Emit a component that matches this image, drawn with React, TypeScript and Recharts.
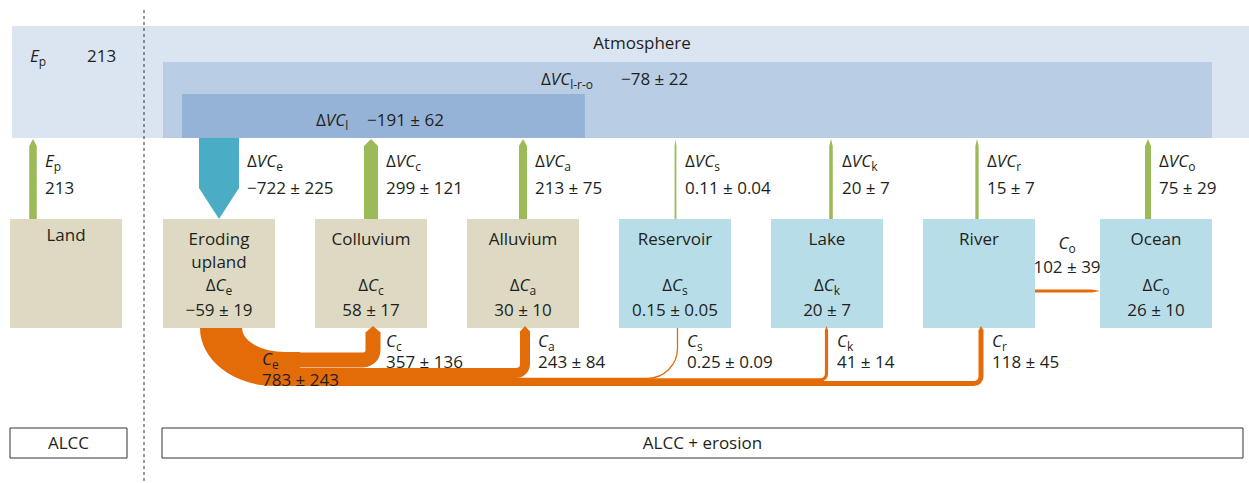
import { ComposedChart, ReferenceArea, ReferenceDot, ReferenceLine, XAxis, YAxis } from 'recharts';

const WIDTH = 1249;
const HEIGHT = 483;

// Carbon pools along the land–ocean continuum
const poolNames = ['Land', 'Eroding\nupland', 'Colluvium', 'Alluvium', 'Reservoir', 'Lake', 'River', 'Ocean'];
const poolSubs = ['', 'e', 'c', 'a', 's', 'k', 'r', 'o'];
const poolKinds = ['soil', 'soil', 'soil', 'soil', 'water', 'water', 'water', 'water'];
const storageMean = [null, -59, 58, 30, 0.15, 20, null, 26];
const storageErr = [null, 19, 17, 10, 0.05, 7, null, 10];

// Vertical exchange between each pool and the atmosphere (first entry is E_p on land)
const verticalMean = [213, -722, 299, 213, 0.11, 20, 15, 75];
const verticalErr = [null, 225, 121, 75, 0.04, 7, 7, 29];

// Lateral transfers carried by erosion and water
const lateralSubs = ['e', 'c', 'a', 's', 'k', 'r', 'o'];
const lateralMean = [783, 357, 243, 0.25, 41, 118, 102];
const lateralErr = [243, 136, 84, 0.09, 14, 45, 39];

// Net atmospheric balances
const atmosphereSubs = ['l-r-o', 'l'];
const atmosphereMean = [-78, -191];
const atmosphereErr = [22, 62];

const scenarioLabels = ['ALCC', 'ALCC + erosion'];

// ---- layout ----
const BOX_LEFT = [10, 163, 315, 467, 619, 771, 923, 1100];
const BOX_W = 112;
const BOX_TOP = 219;
const BOX_BOTTOM = 328;
const ATM_BOTTOM = 138;
const V_ARROW_X = [33, 219, 371, 523, 675.5, 831, 977, 1148];
const V_ARROW_W = [7.5, 40, 14, 8, 1.8, 3.5, 3.3, 6];
const V_LABEL_X = [45, 247, 386, 535, 685, 842, 987, 1159];
const FLOW_START = 285;
const FLOW_X = [0, 373, 525, 677.5, 826.5, 981];
const FLOW_Y = [0, 360, 373, 378.3, 379.8, 383.5];
const FLOW_W = [0, 15, 10, 1.3, 3.2, 5];
const FLOW_R = [0, 10, 9, 30, 6, 7];
const FLOW_HEAD = [0, 6, 5, 0, 4, 4];
const FLOW_LABEL_X = [262, 386, 538, 687, 837, 992, 1067];

const C = {
  atmosphere: '#dbe5f1',
  lro: '#b9cde5',
  l: '#95b3d7',
  soil: '#ddd9c3',
  water: '#b7dde8',
  uptake: '#9bbb59',
  release: '#4bacc6',
  lateral: '#e36c09',
  text: '#231f20',
};
const FONT = "'Open Sans', sans-serif";

type Rect = { x: number; y: number; width: number; height: number };
type Part = { t: string; i?: boolean; sub?: boolean };
type TextSpec = { x: number; y: number; anchor?: 'start' | 'middle'; parts: Part[] };

const fmt = (v: number) => (v < 0 ? `\u2212${Math.abs(v)}` : `${v}`);
const pm = (m: number, e: number | null) => (e == null ? fmt(m) : `${fmt(m)} \u00b1 ${fmt(e)}`);
const plain = (t: string): Part[] => [{ t }];
const dVC = (s: string): Part[] => [{ t: '\u0394' }, { t: 'VC', i: true }, { t: s, sub: true }];
const dC = (s: string): Part[] => [{ t: '\u0394' }, { t: 'C', i: true }, { t: s, sub: true }];
const cSym = (s: string): Part[] => [{ t: 'C', i: true }, { t: s, sub: true }];
const eSym: Part[] = [{ t: 'E', i: true }, { t: 'p', sub: true }];

function arrowShape(dir: 'up' | 'down' | 'right', head: number, fill: string) {
  return (p: Rect) => {
    const { x, y, width: w, height: h } = p;
    let pts: number[][];
    if (dir === 'up') pts = [[x, y + h], [x, y + head], [x + w / 2, y], [x + w, y + head], [x + w, y + h]];
    else if (dir === 'down') pts = [[x, y], [x + w, y], [x + w, y + h - head], [x + w / 2, y + h], [x, y + h - head]];
    else pts = [[x, y], [x + w - head, y], [x + w, y + h / 2], [x + w - head, y + h], [x, y + h]];
    return <polygon points={pts.map((q) => q.join(',')).join(' ')} fill={fill} />;
  };
}

// horizontal run along the bottom of the rect, rounded corner, then up to the top edge
function elbowShape(w: number, r: number, head: number, color: string) {
  return (p: Rect) => {
    const xv = p.x + p.width - w / 2;
    const cy = p.y + p.height - w / 2;
    const top = p.y;
    const d = `M${p.x},${cy} H${xv - r} A${r},${r} 0 0 0 ${xv},${cy - r} V${top + head}`;
    return (
      <g>
        <path d={d} fill="none" stroke={color} strokeWidth={w} />
        {head > 0 && <polygon points={`${xv - w / 2},${top + head + 0.5} ${xv},${top} ${xv + w / 2},${top + head + 0.5}`} fill={color} />}
      </g>
    );
  };
}

// the wide band leaving the eroding upland and bending into the trunk
function bendShape(color: string) {
  return (p: Rect) => {
    const { x, y, width: w, height: h } = p;
    const d = `M${x},${y} L${x + 42},${y} A43,24 0 0 0 ${x + 85},${y + 24} L${x + w},${y + 24} L${x + w},${y + h} L${x + 75},${y + h} A75,${h} 0 0 1 ${x},${y} Z`;
    return <path d={d} fill={color} />;
  };
}

function TextMark({ cx, cy, spec }: { cx: number; cy: number; spec: TextSpec }) {
  let shifted = false;
  return (
    <text x={cx} y={cy} textAnchor={spec.anchor ?? 'start'} fontFamily={FONT} fontSize={17} fill={C.text}>
      {spec.parts.map((p, i) => {
        const dy = p.sub ? (shifted ? 0 : 4) : shifted ? -4 : 0;
        shifted = !!p.sub;
        return (
          <tspan key={i} dy={dy || undefined} fontSize={p.sub ? 12 : undefined} fontStyle={p.i ? 'italic' : undefined}>
            {p.t}
          </tspan>
        );
      })}
    </text>
  );
}

const texts: TextSpec[] = [];
texts.push({ x: 642, y: 49, anchor: 'middle', parts: plain('Atmosphere') });
texts.push({ x: 30, y: 62, parts: eSym });
texts.push({ x: 87, y: 62, parts: plain(fmt(verticalMean[0])) });
texts.push({ x: 541, y: 85, parts: dVC(atmosphereSubs[0]) });
texts.push({ x: 621, y: 85, parts: plain(pm(atmosphereMean[0], atmosphereErr[0])) });
texts.push({ x: 316, y: 126, parts: dVC(atmosphereSubs[1]) });
texts.push({ x: 367, y: 126, parts: plain(pm(atmosphereMean[1], atmosphereErr[1])) });

verticalMean.forEach((m, i) => {
  texts.push({ x: V_LABEL_X[i], y: 167, parts: i === 0 ? eSym : dVC(poolSubs[i]) });
  texts.push({ x: V_LABEL_X[i], y: 194, parts: plain(pm(m, verticalErr[i])) });
});

poolNames.forEach((name, i) => {
  const cx = BOX_LEFT[i] + BOX_W / 2;
  name.split('\n').forEach((line, j) => {
    texts.push({ x: cx, y: (i === 0 ? 241 : 245) + j * 23, anchor: 'middle', parts: plain(line) });
  });
  const m = storageMean[i];
  if (m != null) {
    texts.push({ x: cx, y: 291, anchor: 'middle', parts: dC(poolSubs[i]) });
    texts.push({ x: cx, y: 316, anchor: 'middle', parts: plain(pm(m, storageErr[i])) });
  }
});

lateralMean.forEach((m, i) => {
  const toOcean = i === lateralMean.length - 1;
  const y0 = i === 0 ? 365 : toOcean ? 249 : 347;
  const anchor = toOcean ? 'middle' : 'start';
  texts.push({ x: FLOW_LABEL_X[i], y: y0, anchor, parts: cSym(lateralSubs[i]) });
  texts.push({ x: FLOW_LABEL_X[i], y: y0 + (toOcean ? 24 : 21), anchor, parts: plain(pm(m, lateralErr[i])) });
});

texts.push({ x: 68.5, y: 449, anchor: 'middle', parts: plain(scenarioLabels[0]) });
texts.push({ x: 702.5, y: 449, anchor: 'middle', parts: plain(scenarioLabels[1]) });

export default function App() {
  return (
    <div style={{ position: 'absolute', left: 0, top: 0, width: WIDTH, height: HEIGHT, background: '#fff' }}>
      <ComposedChart width={WIDTH} height={HEIGHT} data={[]} margin={{ top: 0, right: 0, bottom: 0, left: 0 }}>
        <XAxis type="number" dataKey="x" domain={[0, WIDTH]} allowDataOverflow hide />
        <YAxis type="number" domain={[0, HEIGHT]} allowDataOverflow reversed hide />

        {/* atmosphere and its nested balances */}
        <ReferenceArea x1={12} x2={WIDTH} y1={26} y2={ATM_BOTTOM} fill={C.atmosphere} fillOpacity={1} ifOverflow="visible" />
        <ReferenceArea x1={163} x2={1212} y1={62} y2={ATM_BOTTOM} fill={C.lro} fillOpacity={1} ifOverflow="visible" />
        <ReferenceArea x1={182} x2={585} y1={94} y2={ATM_BOTTOM} fill={C.l} fillOpacity={1} ifOverflow="visible" />

        {/* pools */}
        {BOX_LEFT.map((x, i) => (
          <ReferenceArea
            key={`box-${i}`}
            x1={x}
            x2={x + BOX_W}
            y1={BOX_TOP}
            y2={BOX_BOTTOM}
            fill={poolKinds[i] === 'soil' ? C.soil : C.water}
            fillOpacity={1}
            ifOverflow="visible"
          />
        ))}

        {/* vertical exchange arrows */}
        {verticalMean.map((m, i) => {
          const w = V_ARROW_W[i];
          const up = m >= 0;
          return (
            <ReferenceArea
              key={`v-${i}`}
              x1={V_ARROW_X[i] - w / 2}
              x2={V_ARROW_X[i] + w / 2}
              y1={up ? ATM_BOTTOM + 1 : ATM_BOTTOM}
              y2={BOX_TOP}
              ifOverflow="visible"
              shape={arrowShape(up ? 'up' : 'down', up ? 7 : 31, up ? C.uptake : C.release)}
            />
          );
        })}

        {/* lateral transfers */}
        <ReferenceArea x1={200} x2={300} y1={BOX_BOTTOM} y2={386} ifOverflow="visible" shape={bendShape(C.lateral)} />
        {FLOW_X.map((xv, i) =>
          i === 0 ? null : (
            <ReferenceArea
              key={`f-${i}`}
              x1={FLOW_START}
              x2={xv + FLOW_W[i] / 2}
              y1={BOX_BOTTOM - (FLOW_HEAD[i] > 0 ? 2 : 0)}
              y2={FLOW_Y[i] + FLOW_W[i] / 2}
              ifOverflow="visible"
              shape={elbowShape(FLOW_W[i], FLOW_R[i], FLOW_HEAD[i], C.lateral)}
            />
          ),
        )}
        <ReferenceArea
          x1={BOX_LEFT[6] + BOX_W}
          x2={BOX_LEFT[7]}
          y1={289.5}
          y2={292.5}
          ifOverflow="visible"
          shape={arrowShape('right', 8, C.lateral)}
        />

        {/* scenario frames */}
        <ReferenceArea x1={10} x2={127} y1={428} y2={458} fill="#fff" fillOpacity={1} stroke="#333" strokeWidth={1} ifOverflow="visible" />
        <ReferenceArea x1={162} x2={1243} y1={428} y2={458} fill="#fff" fillOpacity={1} stroke="#333" strokeWidth={1} ifOverflow="visible" />

        <ReferenceLine
          segment={[{ x: 144, y: 10 }, { x: 144, y: HEIGHT }]}
          stroke="#333"
          strokeWidth={1}
          strokeDasharray="3 3"
          ifOverflow="visible"
        />

        {texts.map((t, i) => (
          <ReferenceDot
            key={`t-${i}`}
            x={t.x}
            y={t.y}
            r={1}
            ifOverflow="visible"
            shape={(p: { cx: number; cy: number }) => <TextMark cx={p.cx} cy={p.cy} spec={t} />}
          />
        ))}
      </ComposedChart>
    </div>
  );
}
